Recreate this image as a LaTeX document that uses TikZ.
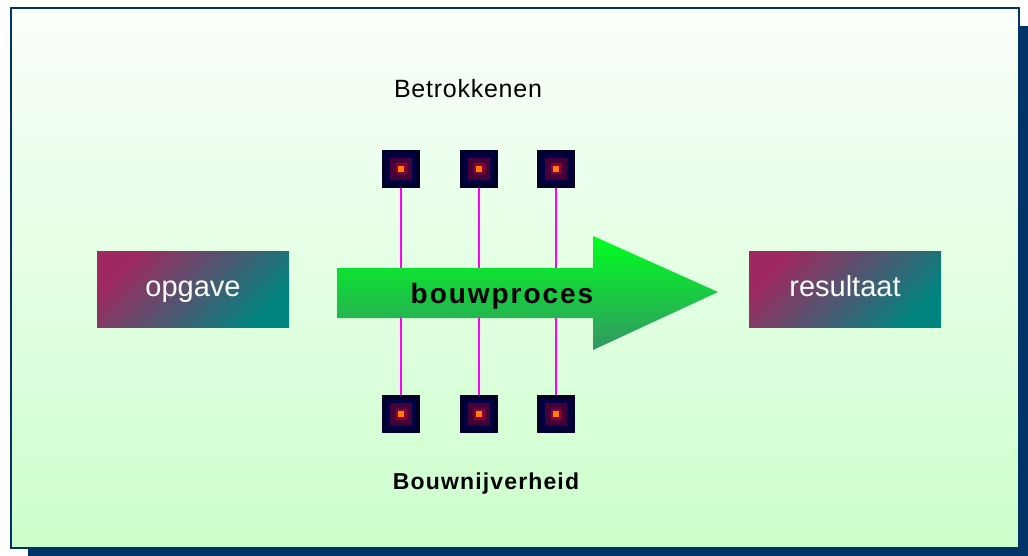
\documentclass[tikz,border=0pt]{standalone}
\usepackage{fontspec}
\setmainfont{Liberation Sans}
\usetikzlibrary{calc}
\definecolor{navy}{RGB}{0,51,102}
\definecolor{bgtop}{RGB}{250,255,250}
\definecolor{bgbot}{RGB}{204,255,204}
\definecolor{crimson}{RGB}{160,40,96}
\definecolor{teal}{RGB}{0,132,128}
\definecolor{arrowtop}{RGB}{0,255,30}
\definecolor{arrowbot}{RGB}{51,150,100}
\definecolor{sqA}{RGB}{0,0,40}
\definecolor{sqB}{RGB}{0,0,68}
\definecolor{sqC}{RGB}{70,0,56}
\definecolor{sqD}{RGB}{140,0,56}
\definecolor{sqE}{RGB}{255,128,0}
\definecolor{link}{RGB}{255,0,255}
\tikzset{
  labelbox/.style={shade, top color=crimson, bottom color=teal, shading angle=45,
    minimum width=192pt, minimum height=76pt, inner sep=0pt,
    text=white, font=\fontsize{29}{29}\selectfont, text height=21pt, text depth=6pt},
  party/.style={fill=sqA, minimum size=38pt, inner sep=0pt,
    path picture={
      \fill[sqB] (path picture bounding box.center) ++(-15pt,-15pt) rectangle ++(30pt,30pt);
      \fill[sqC] (path picture bounding box.center) ++(-11pt,-11pt) rectangle ++(22pt,22pt);
      \fill[sqD] (path picture bounding box.center) ++(-5.5pt,-5.5pt) rectangle ++(11pt,11pt);
      \fill[sqE] (path picture bounding box.center) ++(-3pt,-3pt) rectangle ++(6pt,6pt);
    }},
  linkline/.style={draw=link, line width=2.6pt},
  caption/.style={anchor=base, inner sep=0pt}
}
\begin{document}
\begin{tikzpicture}[x=1pt,y=-1pt]
\useasboundingbox (0,0) rectangle (1028,556);
% drop shadow and framed panel
\fill[navy] (28,26) rectangle (1028,556);
\shade[top color=bgtop, bottom color=bgbot] (11,8) rectangle (1019,548);
\draw[navy, line width=2.4pt] (11,8) rectangle (1019,548);

% input and output boxes
\node[labelbox] (opgave) at (193,289) {opgave};
\node[labelbox] (resultaat) at (845,289) {resultaat};

% the process arrow
\shade[top color=arrowtop, bottom color=arrowbot]
  (337,268) -- (593,268) -- (593,236) -- (718,292) -- (593,350) -- (593,318) -- (337,318) -- cycle;
\coordinate (shafttop) at (337,268);
\coordinate (shaftbot) at (337,318);
\node[caption, font=\bfseries\fontsize{28}{28}\selectfont\addfontfeature{LetterSpace=7}] (proces) at (502,303) {bouwproces};

% parties involved above, industry below
\foreach \i/\x in {1/401, 2/479, 3/556} {
  \node[party] (top\i) at (\x,169) {};
  \node[party] (bot\i) at (\x,414) {};
  \draw[linkline] (top\i.south) -- (top\i.south |- shafttop);
  \draw[linkline] (shaftbot -| bot\i.north) -- (bot\i.north);
}

\node[caption, font=\fontsize{25}{25}\selectfont\addfontfeature{LetterSpace=3}] (betrokkenen) at (468,98) {Betrokkenen};
\node[caption, font=\bfseries\fontsize{23}{23}\selectfont\addfontfeature{LetterSpace=5}] (bouwnijverheid) at (486,489) {Bouwnijverheid};
\end{tikzpicture}
\end{document}
